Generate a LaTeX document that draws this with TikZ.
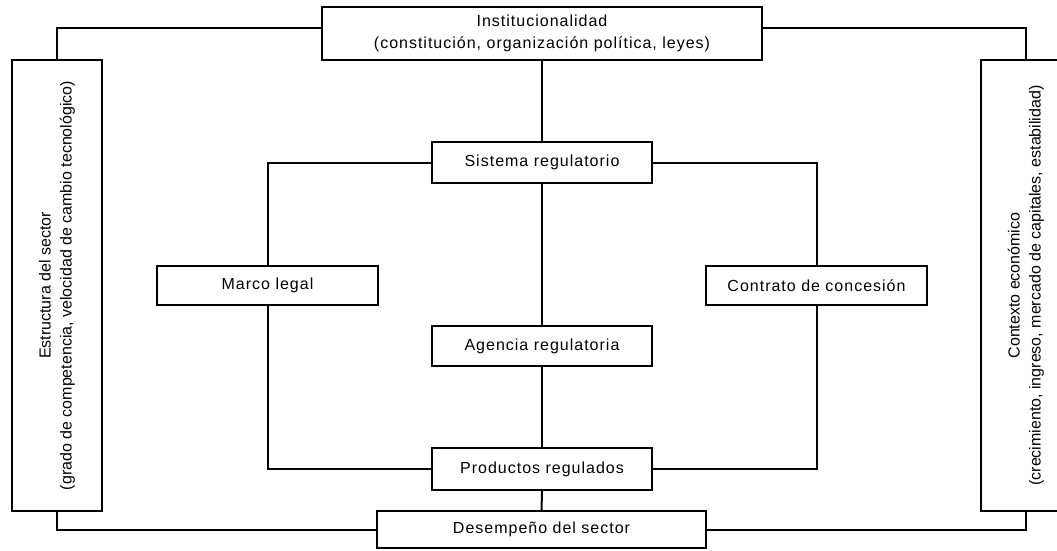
\documentclass[tikz,border=0pt]{standalone}
\usepackage{fontspec}
\setmainfont{Liberation Sans}
\newfontfamily\spacedfont[LetterSpace=6.25]{Liberation Sans}
\begin{document}
\begin{tikzpicture}[x=1pt,y=-1pt,
  box/.style={draw=black,line width=2pt,inner sep=0pt,align=center,
    font=\spacedfont\fontsize{16}{22}\selectfont},
  vbox/.style={draw=black,line width=2pt,inner sep=0pt,align=center,
    font=\fontsize{16}{21}\selectfont},
  link/.style={line width=2pt,line cap=rect}]
\clip (0,0) rectangle (1057,550);
\fill[white] (0,0) rectangle (1057,550);
\node[box,minimum width=440pt,minimum height=53pt] (inst) at (542,33.5)
  {Institucionalidad\\(constitución, organización política, leyes)};
\node[box,minimum width=220pt,minimum height=41pt] (sis) at (542,162.5) {Sistema regulatorio};
\node[box,minimum width=221pt,minimum height=39pt] (marco) at (267.5,285.5) {Marco legal};
\node[box,minimum width=221pt,minimum height=39pt] (contr) at (816.5,285.5) {Contrato de concesión};
\node[box,minimum width=220pt,minimum height=40pt] (agen) at (542,346) {Agencia regulatoria};
\node[box,minimum width=220pt,minimum height=42pt] (prod) at (542,469) {Productos regulados};
\node[box,minimum width=329pt,minimum height=37pt] (des) at (541.5,529.5) {Desempeño del sector};
\node[vbox,rotate=90,minimum width=451pt,minimum height=90pt] (lbox) at (57,285.5)
  {Estructura del sector\\(grado de competencia, velocidad de cambio tecnológico)};
\node[vbox,rotate=90,minimum width=451pt,minimum height=90pt] (rbox) at (1026,285.5)
  {Contexto económico\\(crecimiento, ingreso, mercado de capitales, estabilidad)};
\draw[link] (inst.west |- 0,28) -| (lbox.east);
\draw[link] (inst.east |- 0,28) -| (rbox.east);
\draw[link] (inst.south) -- (sis.north);
\draw[link] (sis.west) -| (marco.north);
\draw[link] (sis.east) -| (contr.north);
\draw[link] (sis.south) -- (agen.north);
\draw[link] (marco.south) |- (prod.west);
\draw[link] (contr.south) |- (prod.east);
\draw[link] (agen.south) -- (prod.north);
\draw[link] (prod.south) -- (des.north);
\draw[link] (lbox.west) |- (des.west);
\draw[link] (rbox.west) |- (des.east);
\end{tikzpicture}
\end{document}
